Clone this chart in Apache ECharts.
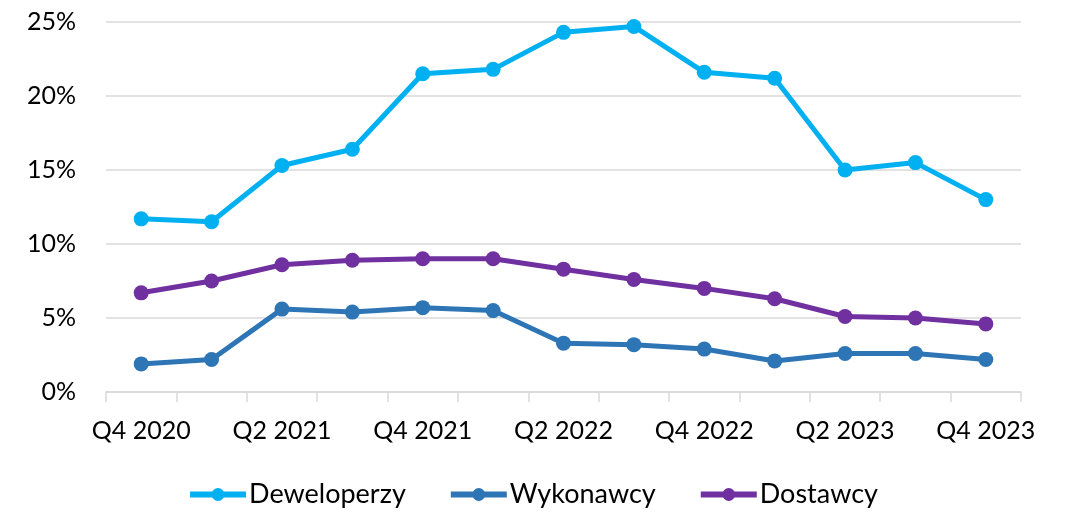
<!DOCTYPE html>
<html>
<head>
<meta charset="utf-8">
<script src="https://cdn.jsdelivr.net/npm/echarts@6/dist/echarts.min.js"></script>
<style>
  html, body { margin: 0; padding: 0; background: #fff; }
  #chart { width: 1065px; height: 513px; }
</style>
</head>
<body>
<div id="chart"></div>
<script>
// quarters on the x axis
var quarters = ['Q4 2020', 'Q1 2021', 'Q2 2021', 'Q3 2021', 'Q4 2021', 'Q1 2022', 'Q2 2022',
                'Q3 2022', 'Q4 2022', 'Q1 2023', 'Q2 2023', 'Q3 2023', 'Q4 2023'];

// values in %
var deweloperzy = [11.7, 11.5, 15.3, 16.4, 21.5, 21.8, 24.3, 24.7, 21.6, 21.2, 15.0, 15.5, 13.0];
var wykonawcy = [1.9, 2.2, 5.6, 5.4, 5.7, 5.5, 3.3, 3.2, 2.9, 2.1, 2.6, 2.6, 2.2];
var dostawcy = [6.7, 7.5, 8.6, 8.9, 9.0, 9.0, 8.3, 7.6, 7.0, 6.3, 5.1, 5.0, 4.6];

var font = 'Lato, "Open Sans", sans-serif';

function lineSeries(name, data, color) {
    return {
        name: name,
        type: 'line',
        data: data,
        symbol: 'circle',
        symbolSize: 15,
        lineStyle: { width: 5, color: color },
        itemStyle: { color: color },
        emphasis: { disabled: true }
    };
}

var chart = echarts.init(document.getElementById('chart'));
chart.setOption({
    animation: false,
    grid: { left: 106, right: 44, top: 22, bottom: 121 },
    legend: {
        bottom: 0,
        left: 'center',
        itemWidth: 56,
        itemHeight: 16,
        itemGap: 42,
        lineStyle: { width: 6 },
        textStyle: { fontFamily: font, fontSize: 27, color: '#000', padding: [0, 0, 0, -2] },
        data: ['Deweloperzy', 'Wykonawcy', 'Dostawcy']
    },
    xAxis: {
        type: 'category',
        data: quarters,
        boundaryGap: true,
        axisLine: { lineStyle: { color: '#d9d9d9', width: 1.5 } },
        axisTick: { show: true, length: 10, interval: 0, lineStyle: { color: '#d9d9d9', width: 1.5 } },
        axisLabel: { interval: 1, margin: 26, fontFamily: font, fontSize: 25, color: '#000' }
    },
    yAxis: {
        type: 'value',
        min: 0,
        max: 25,
        interval: 5,
        axisLine: { show: false },
        axisTick: { show: false },
        splitLine: { lineStyle: { color: '#d9d9d9', width: 1.5 } },
        axisLabel: { margin: 30, fontFamily: font, fontSize: 25, color: '#000', formatter: '{value}%' }
    },
    series: [
        lineSeries('Deweloperzy', deweloperzy, '#00B0F0'),
        lineSeries('Wykonawcy', wykonawcy, '#2E75B6'),
        lineSeries('Dostawcy', dostawcy, '#7030A0')
    ]
});
</script>
</body>
</html>
